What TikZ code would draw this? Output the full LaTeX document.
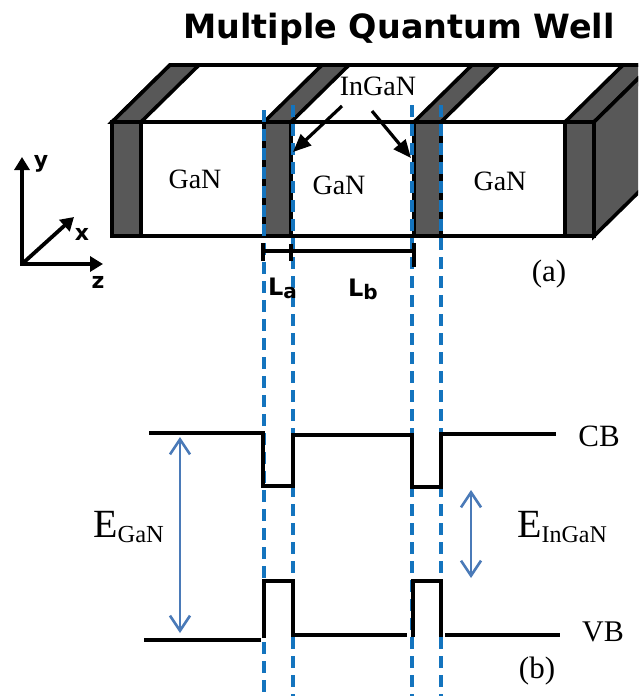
\documentclass[tikz,border=0pt]{standalone}
\usepackage{fontspec}
\setmainfont{Liberation Serif}
\newfontfamily\dejabold[Scale=1]{DejaVu Sans Bold}
\usetikzlibrary{arrows.meta}
\definecolor{band}{RGB}{88,88,88}
\definecolor{dashblue}{RGB}{20,116,190}
\definecolor{arrowblue}{RGB}{74,122,184}
\tikzset{
  lbl/.style={inner sep=0pt,font=\fontsize{28}{30}\selectfont},
  sans/.style={inner sep=0pt,font=\dejabold\fontsize{22}{24}\selectfont},
  edge/.style={draw=black,line width=3.6pt,line join=miter},
  darkband/.style={fill=band,draw=black,line width=3.6pt},
  guide/.style={draw=dashblue,line width=3.4pt,dash pattern=on 12pt off 7pt},
  level/.style={draw=black,line width=3.6pt,line join=miter},
  gap/.style={draw=arrowblue,line width=2.6pt,{Straight Barb[length=15pt,width=20pt,line width=2.6pt]}-{Straight Barb[length=15pt,width=20pt,line width=2.6pt]}},
  axis/.style={draw=black,line width=3.8pt,-{Triangle[length=13pt,width=15pt]}},
  pointer/.style={draw=black,line width=3.2pt,-{Triangle[length=18pt,width=15pt]}},
}
\begin{document}
\begin{tikzpicture}[x=1pt,y=-1pt]
\useasboundingbox (0,0) rectangle (638,696);
\clip (0,0) rectangle (638,696);
\fill[white] (0,0) rectangle (638,696);
% block
\draw[edge,fill=white] (112,122) -- (170,65) -- (660,65) -- (594,122) -- cycle;
\draw[darkband] (112,122) -- (170,65) -- (199,65) -- (141,122) -- cycle;
\draw[darkband] (264,122) -- (322,65) -- (349,65) -- (291,122) -- cycle;
\draw[darkband] (414,122) -- (472,65) -- (499,65) -- (441,122) -- cycle;
\draw[darkband] (565,122) -- (623,65) -- (652,65) -- (594,122) -- cycle;
\draw[darkband] (594,122) -- (652,65) -- (652,179) -- (594,236) -- cycle;
\draw[edge,fill=white] (112,122) rectangle (594,236);
\draw[darkband] (112,122) rectangle (141,236);
\draw[darkband] (264,122) rectangle (291,236);
\draw[darkband] (414,122) rectangle (441,236);
\draw[darkband] (565,122) rectangle (594,236);
% guides
\draw[guide] (264,110) -- (264,696);
\draw[guide] (293,105) -- (293,696);
\draw[guide] (412,105) -- (412,696);
\draw[guide] (441,105) -- (441,696);
% block labels
\node[lbl] (g1) at (195,179) {GaN};
\node[lbl] (g2) at (339,185) {GaN};
\node[lbl] (g3) at (500,181) {GaN};
\node[lbl] (ing) at (378,86) {InGaN};
\coordinate (p1) at (293,152);
\coordinate (p2) at (411,158);
\draw[pointer] (342,106) -- (p1);
\draw[pointer] (372,111) -- (p2);
% title
\node[inner sep=0pt,font=\dejabold\fontsize{33.4}{35}\selectfont] (title) at (399,29) {Multiple Quantum Well};
% dimension
\coordinate (d1) at (263,251);
\coordinate (d2) at (291,251);
\coordinate (d3) at (414,251);
\draw[black,line width=3.2pt] (d1) -- (d3);
\draw[black,line width=3.2pt] (263,243) -- (263,261);
\draw[black,line width=3.2pt] (291,244) -- (291,261);
\draw[black,line width=3.2pt] (414,243) -- (414,267);
\node[inner sep=0pt,anchor=base west,font=\dejabold\fontsize{24}{26}\selectfont] (la) at (268,295) {L\raisebox{-3pt}{\fontsize{20}{22}\selectfont a}};
\node[inner sep=0pt,anchor=base west,font=\dejabold\fontsize{24}{26}\selectfont] (lb) at (348,296) {L\raisebox{-3pt}{\fontsize{20}{22}\selectfont b}};
\node[inner sep=0pt,font=\fontsize{31}{33}\selectfont] (a) at (549,274) {(a)};
% axes
\coordinate (o) at (22,264);
\coordinate (ay) at (22,157);
\coordinate (ax) at (74,217);
\coordinate (az) at (103,264);
\draw[axis] (22,265.9) -- (ay);
\draw[axis] (o) -- (ax);
\draw[axis] (20.1,264) -- (az);
\node[sans] (ly) at (41,164) {y};
\node[sans] (lx) at (82,234) {x};
\node[sans] (lz) at (98,282) {z};
% bands
\draw[level] (149,433) -- (263,433) -- (263,486) -- (293,486) -- (293,435) -- (412,435) -- (412,487) -- (441,487) -- (441,434) -- (556,434);
\draw[level] (144,640) -- (261,640);
\draw[level] (264,638) -- (264,581) -- (293,581) -- (293,635) -- (407,635);
\draw[level] (413,637) -- (413,581) -- (441,581) -- (441,637);
\draw[level] (445,635) -- (560,635);
\coordinate (g1t) at (180,437);
\coordinate (g1b) at (180,633);
\coordinate (g2t) at (471,490);
\coordinate (g2b) at (471,578);
\draw[gap] (g1t) -- (g1b);
\draw[gap] (g2t) -- (g2b);
\node[inner sep=0pt,anchor=base west,font=\fontsize{40}{42}\selectfont] (eg) at (93,537) {E\raisebox{-5pt}{\fontsize{24.5}{26}\selectfont GaN}};
\node[inner sep=0pt,anchor=base west,font=\fontsize{40}{42}\selectfont] (ei) at (517,537) {E\raisebox{-5pt}{\fontsize{24}{26}\selectfont InGaN}};
\node[inner sep=0pt,font=\fontsize{31}{33}\selectfont] (cb) at (599,436) {CB};
\node[inner sep=0pt,font=\fontsize{30}{32}\selectfont] (vb) at (603,632) {VB};
\node[inner sep=0pt,font=\fontsize{31}{33}\selectfont] (b) at (537,671) {(b)};
\end{tikzpicture}
\end{document}
